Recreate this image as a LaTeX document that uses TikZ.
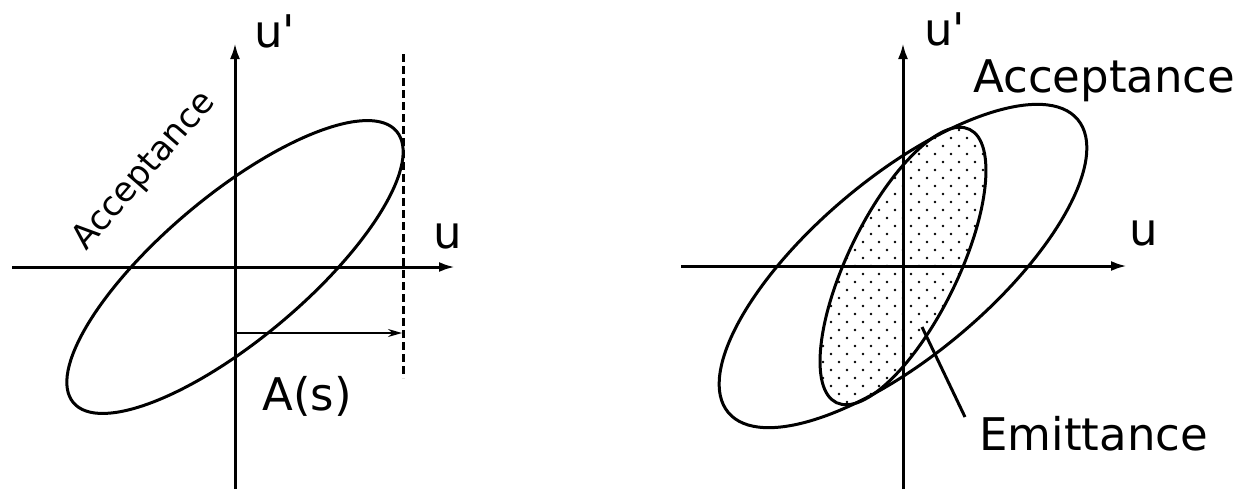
\documentclass[tikz,border=0pt]{standalone}
\usepackage{fontspec}
\setmainfont{DejaVu Sans}
\usetikzlibrary{arrows.meta}
\tikzset{
	axis/.style={line width=1.5pt, -{Latex[length=8pt, width=5pt]}},
	curve/.style={line width=1.5pt},
	lbl/.style={font=\fontsize{22.5}{27}\selectfont, inner sep=0pt, anchor=base west},
}
\begin{document}
\begin{tikzpicture}[x=0.5pt, y=-0.5pt]
		\useasboundingbox (0, 0) rectangle (1249, 489);
		\coordinate (o1) at (235, 267);
		\coordinate (o2) at (903, 266);
		\coordinate (xa1) at (12, 267);
		\coordinate (xb1) at (455, 267);
		\coordinate (ya1) at (235, 489);
		\coordinate (yb1) at (235, 43);
		\coordinate (xa2) at (681, 266);
		\coordinate (xb2) at (1127, 266);
		\coordinate (ya2) at (903, 489);
		\coordinate (yb2) at (903, 43);
		\begin{scope}
			\clip[rotate around={64:(o2)}] (o2) ellipse [x radius=152, y radius=55];
			\foreach \i in {-6, -5, ..., 6}{
				\foreach \j in {-9, -8, ..., 9}{
					\fill (903 + 16*\i, 266 + 16*\j) circle (0.7pt);
					\fill (911 + 16*\i, 274 + 16*\j) circle (0.7pt);
				}
			}
		\end{scope}
		\draw[axis] (xa1) -- (xb1);
		\draw[axis] (ya1) -- (yb1);
		\draw[axis] (xa2) -- (xb2);
		\draw[axis] (ya2) -- (yb2);
		\draw[curve, rotate around={40:(o1)}] (o1) ellipse [x radius=211, y radius=72];
		\draw[curve, rotate around={40:(o2)}] (o2) ellipse [x radius=228, y radius=89];
		\draw[curve, rotate around={64:(o2)}] (o2) ellipse [x radius=152, y radius=55];
		\coordinate (d1) at (403, 54);
		\coordinate (d2) at (403, 378);
		\draw[line width=1.5pt, dash pattern=on 4pt off 2pt] (d1) -- (d2);
		\coordinate (a1) at (235, 333);
		\coordinate (a2) at (402, 333);
		\draw[line width=0.8pt, -{Stealth[length=7pt, width=4pt]}] (a1) -- (a2);
		\node[lbl] (up1) at (254, 47) {u\textquotesingle};
		\node[lbl] (up2) at (924, 45) {u\textquotesingle};
		\node[lbl] (u1) at (433, 248) {u};
		\node[lbl] (u2) at (1129, 245) {u};
		\node[lbl] (as) at (262, 410) {A(s)};
		\node[lbl, font=\fontsize{17}{20}\selectfont, rotate=49] (acc1) at (86, 252) {Acceptance};
		\node[lbl] (acc2) at (973, 92) {Acceptance};
		\node[lbl] (emi) at (979, 450) {Emittance};
		\coordinate (p1) at (922, 327);
		\draw[curve] (p1) -- ([shift={(-14, -33)}]emi.base west);
	\end{tikzpicture}
\end{document}
